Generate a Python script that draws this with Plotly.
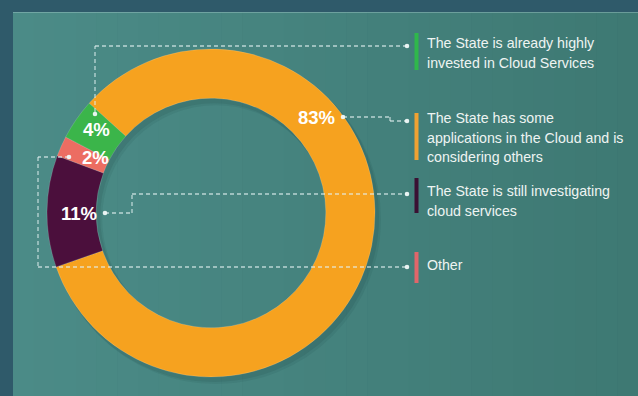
import plotly.graph_objects as go

# Survey answers (legend order) and their shares in percent
categories = [
    "The State is already highly invested in Cloud Services",
    "The State has some applications in the Cloud and is considering others",
    "The State is still investigating cloud services",
    "Other",
]
legend_lines = [
    ["The State is already highly", "invested in Cloud Services"],
    ["The State has some", "applications in the Cloud and is", "considering others"],
    ["The State is still investigating", "cloud services"],
    ["Other"],
]
shares = [4, 83, 11, 2]
colors = ["#3bb54a", "#f6a21f", "#4b0f3c", "#ec6d62"]
bar_colors = ["#2fb84b", "#f0a232", "#3a1133", "#e0666a"]

# Slices are laid out clockwise starting with the large orange one
ring_order = [1, 2, 3, 0]

W, H = 638, 396
cx, cy, R = 211, 213, 164

fig = go.Figure()

fig.add_trace(go.Pie(
    labels=[categories[i] for i in ring_order],
    values=[shares[i] for i in ring_order],
    marker=dict(colors=[colors[i] for i in ring_order],
                line=dict(color="rgba(255,255,255,0.25)", width=0.6)),
    hole=0.70,
    sort=False,
    direction="clockwise",
    rotation=-48,
    textinfo="none",
    hoverinfo="label+percent",
    showlegend=False,
    domain=dict(x=[(cx - R) / W, (cx + R) / W],
                y=[(H - cy - R) / H, (H - cy + R) / H]),
))

shapes = []
# panel with a soft left-to-right gradient
n_strips = 30
c0 = (75, 139, 135)
c1 = (62, 121, 115)
x_start = 13
for k in range(n_strips):
    t = k / (n_strips - 1)
    col = tuple(int(round(a + (b - a) * t)) for a, b in zip(c0, c1))
    xa = x_start + (W - x_start) * k / n_strips
    xb = x_start + (W - x_start) * (k + 1) / n_strips + 0.6
    shapes.append(dict(type="rect", xref="x", yref="y", x0=xa, x1=xb, y0=12, y1=H,
                       fillcolor="rgb(%d,%d,%d)" % col, line=dict(width=0), layer="below"))
# thin light line along the top of the panel
shapes.append(dict(type="line", xref="x", yref="y", x0=13, x1=W, y0=12.5, y1=12.5,
                   line=dict(color="rgba(160,200,200,0.45)", width=1), layer="below"))

# soft drop shadow under the ring
ring_w = R * 0.30
ring_mid = R - ring_w / 2
for off, alpha in [(5, 0.08), (3, 0.10)]:
    shapes.append(dict(type="circle", xref="x", yref="y",
                       x0=cx - ring_mid + off, x1=cx + ring_mid + off,
                       y0=cy - ring_mid + off + 1, y1=cy + ring_mid + off + 1,
                       line=dict(color="rgba(15,45,50,%.2f)" % alpha, width=ring_w + 2),
                       fillcolor="rgba(0,0,0,0)", layer="below"))

dash_style = dict(color="rgba(225,240,240,0.75)", width=1.3, dash="4px,3px")


def leader(points):
    for (xa, ya), (xb, yb) in zip(points[:-1], points[1:]):
        shapes.append(dict(type="line", xref="x", yref="y", x0=xa, y0=ya, x1=xb, y1=yb,
                           line=dash_style, layer="above"))


def dot(x, y, r=2.3):
    shapes.append(dict(type="circle", xref="x", yref="y", x0=x - r, x1=x + r, y0=y - r, y1=y + r,
                       fillcolor="rgba(240,248,248,0.95)", line=dict(width=0), layer="above"))


# leader lines from the percentage labels to the legend entries
legend_dot_x = 407
leader([(95, 112), (95, 46), (legend_dot_x, 46)])
leader([(343, 117), (390, 117), (390, 121), (legend_dot_x, 121)])
leader([(105, 213), (132, 213), (132, 194), (legend_dot_x, 194)])
leader([(69, 157), (38, 157), (38, 267), (legend_dot_x, 267)])
for (x, y) in [(95, 114), (343, 117), (105, 213), (69, 157)]:
    dot(x, y)
for y in [46, 121, 194, 267]:
    dot(legend_dot_x, y)

# coloured legend bars
bar_spans = [(33, 70), (113, 160), (178, 213), (252, 283)]
for (y0, y1), col in zip(bar_spans, bar_colors):
    shapes.append(dict(type="rect", xref="x", yref="y", x0=414.5, x1=418.5, y0=y0, y1=y1,
                       fillcolor=col, line=dict(width=0), layer="above"))

annotations = []
# percentage labels, drawn from the share values
label_pos = [(96, 129), (316, 117), (79, 213), (95, 157)]
for val, (x, y) in zip(shares, label_pos):
    annotations.append(dict(x=x, y=y, xref="x", yref="y", text="<b>%d%%</b>" % val,
                            showarrow=False, xanchor="center", yanchor="middle",
                            font=dict(family="Liberation Sans, Arial, sans-serif",
                                      size=18.5, color="#ffffff")))

# legend text
legend_top = [43, 118, 191, 265]
for lines, y0 in zip(legend_lines, legend_top):
    for j, line in enumerate(lines):
        annotations.append(dict(x=425, y=y0 + j * 19.5, xref="x", yref="y", text=line,
                                showarrow=False, xanchor="left", yanchor="middle",
                                font=dict(family="Liberation Sans Narrow, Arial Narrow, sans-serif",
                                          size=14.2, color="#eef4f2")))

fig.update_layout(
    width=W, height=H,
    margin=dict(l=0, r=0, t=0, b=0),
    paper_bgcolor="#2f5a6a",
    plot_bgcolor="rgba(0,0,0,0)",
    xaxis=dict(range=[0, W], visible=False, fixedrange=True),
    yaxis=dict(range=[H, 0], visible=False, fixedrange=True),
    shapes=shapes,
    annotations=annotations,
)

fig.write_html("out.html")
